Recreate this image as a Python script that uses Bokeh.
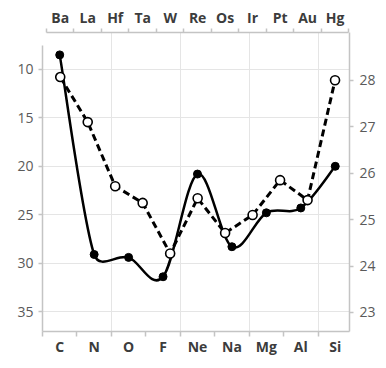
import numpy as np
from bokeh.plotting import figure
from bokeh.models import Range1d, LinearAxis, FixedTicker
from bokeh.embed import file_html
from bokeh.resources import INLINE

# ---- data ----
bottom_cats = ["C", "N", "O", "F", "Ne", "Na", "Mg", "Al", "Si"]
solid_vals = [8.5, 29.1, 29.4, 31.4, 20.8, 28.3, 24.8, 24.3, 20.0]
top_cats = ["Ba", "La", "Hf", "Ta", "W", "Re", "Os", "Ir", "Pt", "Au", "Hg"]
open_vals = [28.07, 27.1, 25.72, 25.36, 24.27, 25.46, 24.71, 25.1, 25.85, 25.42, 28.0]
left_ticks = [10, 15, 20, 25, 30, 35]
right_ticks = [23, 24, 25, 26, 27, 28]

xb = [i + 0.5 for i in range(len(bottom_cats))]
xt = [i + 0.5 for i in range(len(top_cats))]

AX = "#c4c4c4"
LBL = "#5a5a5a"
CAT = "#3c3c3c"
FONT = "Open Sans"

p = figure(frame_width=307, frame_height=299, output_backend="svg", toolbar_location=None,
           x_range=Range1d(0, 8.914), y_range=Range1d(37.05, 6.19),
           x_axis_location=None, y_axis_location=None,
           min_border_left=42, min_border_top=32, min_border_right=30, min_border_bottom=24)
p.outline_line_color = None
p.background_fill_color = "white"
p.border_fill_color = "white"
p.extra_x_ranges = {"top": Range1d(-0.1456, 11.026)}
p.extra_y_ranges = {"right": Range1d(22.59, 29.03)}


def style(ax, size="14px", bold=False, color=LBL):
    ax.axis_line_color = AX
    ax.axis_line_width = 1.5
    ax.major_tick_line_color = AX
    ax.major_tick_line_width = 1.5
    ax.minor_tick_line_color = AX
    ax.minor_tick_line_width = 1.5
    ax.major_tick_in = 0
    ax.minor_tick_in = 0
    ax.major_label_text_font = FONT
    ax.major_label_text_font_size = size
    ax.major_label_text_color = color
    ax.major_label_text_font_style = "bold" if bold else "normal"


left = LinearAxis(ticker=FixedTicker(ticks=left_ticks), bounds=(7.5, 37.05))
style(left)
left.major_tick_out = 4
left.major_label_standoff = 5
p.add_layout(left, "left")

right = LinearAxis(y_range_name="right", ticker=FixedTicker(ticks=right_ticks))
style(right)
right.major_tick_out = 4
right.major_label_standoff = 6
p.add_layout(right, "right")

bottom = LinearAxis(ticker=FixedTicker(ticks=xb, minor_ticks=list(range(len(bottom_cats) + 1))),
                    bounds=(0, len(bottom_cats)),
                    major_label_overrides={x: c for x, c in zip(xb, bottom_cats)})
style(bottom, bold=True, color=CAT)
bottom.major_tick_line_color = None
bottom.major_tick_out = 5
bottom.minor_tick_out = 5
bottom.major_label_standoff = 0
p.add_layout(bottom, "below")

top = LinearAxis(x_range_name="top",
                 ticker=FixedTicker(ticks=xt, minor_ticks=list(range(len(top_cats) + 1))),
                 bounds=(0, len(top_cats)),
                 major_label_overrides={x: c for x, c in zip(xt, top_cats)})
style(top, bold=True, color=CAT)
top.major_tick_line_color = None
top.major_tick_out = 4
top.minor_tick_out = 4
top.major_label_standoff = 2
p.add_layout(top, "above")

# ---- smooth (Excel-like) curve for the solid series ----
sx, sy = 34.44, 9.7  # px per data unit (for tangent scaling only)
X = np.array(xb)
Y = np.array(solid_vals)
n = len(X)


def d(i, j):
    return np.hypot((X[j] - X[i]) * sx, (Y[j] - Y[i]) * sy)


x0s, y0s, x1s, y1s, cx0, cy0, cx1, cy1 = [], [], [], [], [], [], [], []
for i in range(n - 1):
    j = i + 1
    a = max(i - 1, 0)
    b = min(j + 1, n - 1)
    dd = d(a, j)
    f1 = min(1 / 6, 0.5 * d(i, j) / dd) if dd > 0 else 0
    dd2 = d(i, b)
    f2 = min(1 / 6, 0.5 * d(i, j) / dd2) if dd2 > 0 else 0
    x0s.append(X[i]); y0s.append(Y[i]); x1s.append(X[j]); y1s.append(Y[j])
    cx0.append(X[i] + (X[j] - X[a]) * f1)
    cy0.append(Y[i] + (Y[j] - Y[a]) * f1)
    cx1.append(X[j] - (X[b] - X[i]) * f2)
    cy1.append(Y[j] - (Y[b] - Y[i]) * f2)

p.bezier(x0=x0s, y0=y0s, x1=x1s, y1=y1s, cx0=cx0, cy0=cy0, cx1=cx1, cy1=cy1,
         line_color="black", line_width=2.5)
p.scatter(xb, solid_vals, size=8, color="black")

p.line(xt, open_vals, x_range_name="top", y_range_name="right",
       line_color="black", line_width=3, line_dash="7 4")
p.scatter(xt, open_vals, x_range_name="top", y_range_name="right",
          size=9, fill_color="white", line_color="black", line_width=1.6)

open("out.html", "w").write(file_html(p, INLINE))
